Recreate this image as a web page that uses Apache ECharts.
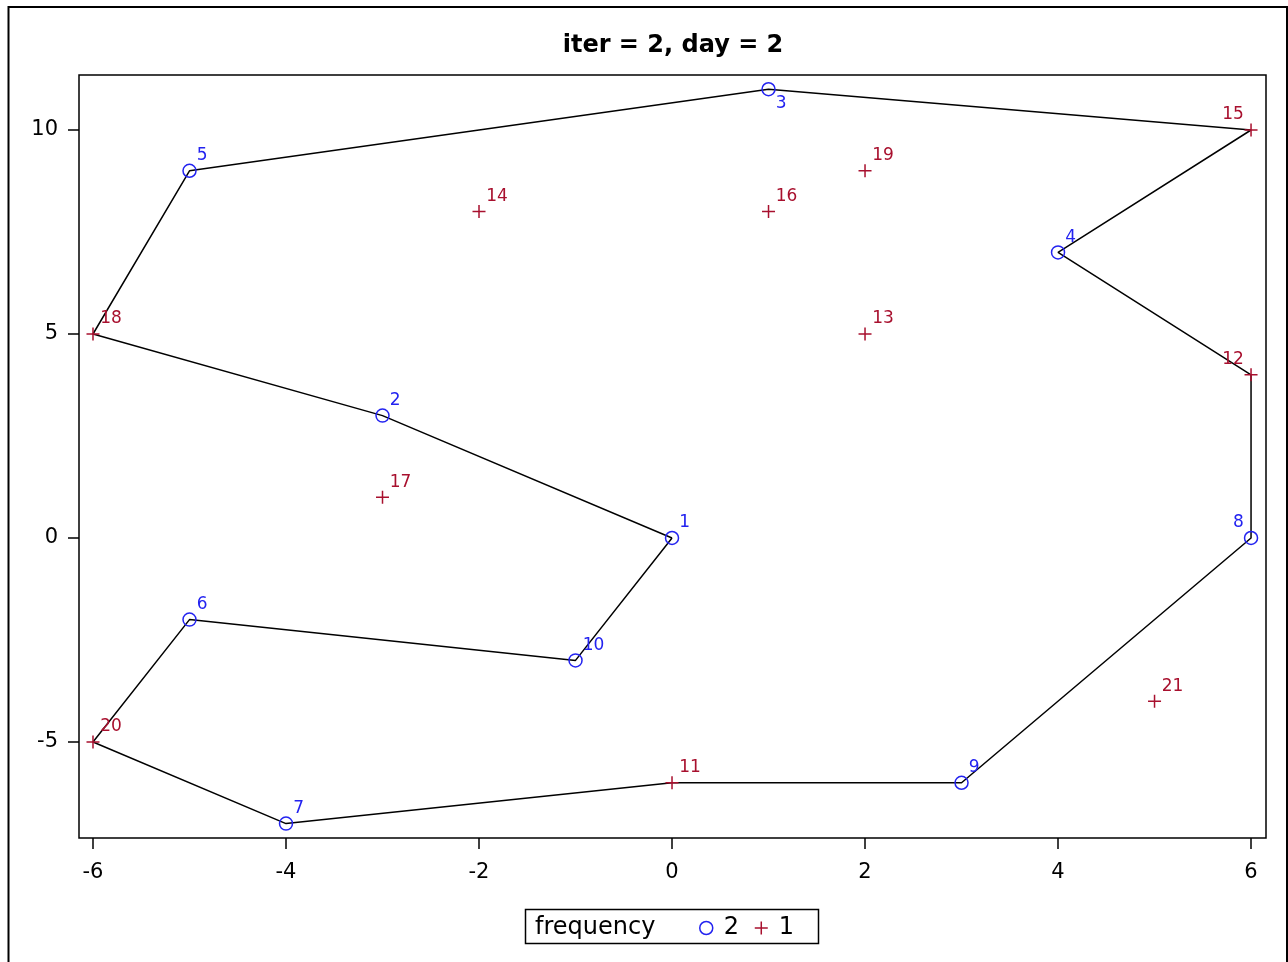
<!DOCTYPE html>
<html>
<head>
<meta charset="utf-8">
<script src="https://cdn.jsdelivr.net/npm/echarts@6/dist/echarts.min.js"></script>
<style>html,body{margin:0;padding:0;background:#fff}#c{width:1288px;height:962px}</style>
</head>
<body>
<div id="c"></div>
<script>
// ---- data ----
var pointIds   = [1, 2, 3, 4, 5, 6, 7, 8, 9, 10, 11, 12, 13, 14, 15, 16, 17, 18, 19, 20, 21];
var pointX     = [0, -3, 1, 4, -5, -5, -4, 6, 3, -1, 0, 6, 2, -2, 6, 1, -3, -6, 2, -6, 5];
var pointY     = [0, 3, 11, 7, 9, -2, -7, 0, -6, -3, -6, 4, 5, 8, 10, 8, 1, 5, 9, -5, -4];
var frequency  = [2, 2, 2, 2, 2, 2, 2, 2, 2, 2, 1, 1, 1, 1, 1, 1, 1, 1, 1, 1, 1];
var routeOrder = [1, 10, 6, 20, 7, 11, 9, 8, 12, 4, 15, 3, 5, 18, 2, 1];
var xTicks = [-6, -4, -2, 0, 2, 4, 6];
var yTicks = [-5, 0, 5, 10];
var legendTitle = 'frequency';
var chartTitle = 'iter = 2, day = 2';

// ---- styling ----
var FONT = 'DejaVu Sans';
var BLUE = '#2323f0';
var RED = '#a8102e';
var PLUS = 'path://M6,0L6,12M0,6L12,6';
var labelPlacement = { 3: 'br', 15: 'tl', 12: 'tl', 8: 'tl' };

function labelFor(id, color) {
  var p = labelPlacement[id] || 'tr';
  var l = { show: true, formatter: String(id), color: color, fontFamily: FONT, fontSize: 17, distance: 0 };
  if (p === 'tr') { l.position = 'right'; l.offset = [0, -15]; }
  else if (p === 'br') { l.position = 'right'; l.offset = [0, 14]; }
  else { l.position = 'left'; l.offset = [0, -15]; }
  return l;
}

var circData = [], plusData = [];
pointIds.forEach(function (id, i) {
  var f = frequency[i];
  var item = { value: [pointX[i], pointY[i]], label: labelFor(id, f === 2 ? BLUE : RED) };
  if (f === 2) circData.push(item); else plusData.push(item);
});
var routeData = routeOrder.map(function (id) {
  var i = pointIds.indexOf(id);
  return [pointX[i], pointY[i]];
});

var chart = echarts.init(document.getElementById('c'), null, { renderer: 'canvas' });
var axisCommon = {
  axisLine: { show: false, onZero: false },
  splitLine: { show: false },
  axisTick: { show: true, inside: false, length: 11, lineStyle: { color: '#000', width: 1.5 } },
  axisLabel: { color: '#000', fontFamily: FONT, fontSize: 21 }
};
chart.setOption({
  animation: false,
  backgroundColor: '#fff',
  title: {
    text: chartTitle, left: 668, top: 29, textAlign: 'center',
    textStyle: { fontFamily: FONT, fontSize: 24, fontWeight: 'bold', color: '#000' }
  },
  grid: { left: 79, top: 75, width: 1187, height: 763, show: true, borderColor: '#000', borderWidth: 1.5, backgroundColor: 'transparent' },
  xAxis: echarts.util.merge({
    type: 'value', min: -6.145, max: 6.155,
    axisTick: { customValues: xTicks },
    axisLabel: { customValues: xTicks, margin: 24 }
  }, axisCommon),
  yAxis: echarts.util.merge({
    type: 'value', min: -7.353, max: 11.348,
    axisTick: { customValues: yTicks },
    axisLabel: { customValues: yTicks, margin: 21, padding: [4, 0, 0, 0] }
  }, axisCommon),
  legend: {
    data: [
      { name: '2', icon: 'circle', itemStyle: { color: 'transparent', borderColor: BLUE, borderWidth: 1.5, opacity: 1 } },
      { name: '1', icon: PLUS, itemStyle: { color: 'transparent', borderColor: RED, borderWidth: 1.5, opacity: 1 } }
    ],
    left: 694, top: 911,
    itemWidth: 25, itemHeight: 13, itemGap: 15,
    selectedMode: false,
    textStyle: { fontFamily: FONT, fontSize: 24, color: '#000' }
  },
  graphic: [
    { type: 'rect', shape: { x: 8.5, y: 7, width: 1278.5, height: 1000 }, style: { fill: 'none', stroke: '#000', lineWidth: 2 }, silent: true },
    { type: 'rect', shape: { x: 525.5, y: 909.5, width: 293, height: 34 }, style: { fill: 'none', stroke: '#000', lineWidth: 1.5 }, silent: true },
    { type: 'text', x: 535, y: 928, style: { text: legendTitle, fontFamily: FONT, fontSize: 24, fill: '#000', verticalAlign: 'middle', textAlign: 'left' }, silent: true }
  ],
  series: [
    {
      name: 'route', type: 'line', data: routeData, symbol: 'none', clip: false, z: 1,
      lineStyle: { color: '#000', width: 1.5 }
    },
    {
      name: '2', type: 'scatter', data: circData, symbol: 'circle', symbolSize: 13, z: 3,
      itemStyle: { color: 'transparent', borderColor: BLUE, borderWidth: 1.5, opacity: 1 }
    },
    {
      name: '1', type: 'scatter', data: plusData, symbol: PLUS, symbolSize: 13, z: 3,
      itemStyle: { color: 'transparent', borderColor: RED, borderWidth: 1.5, opacity: 1 }
    }
  ]
});
</script>
</body>
</html>
